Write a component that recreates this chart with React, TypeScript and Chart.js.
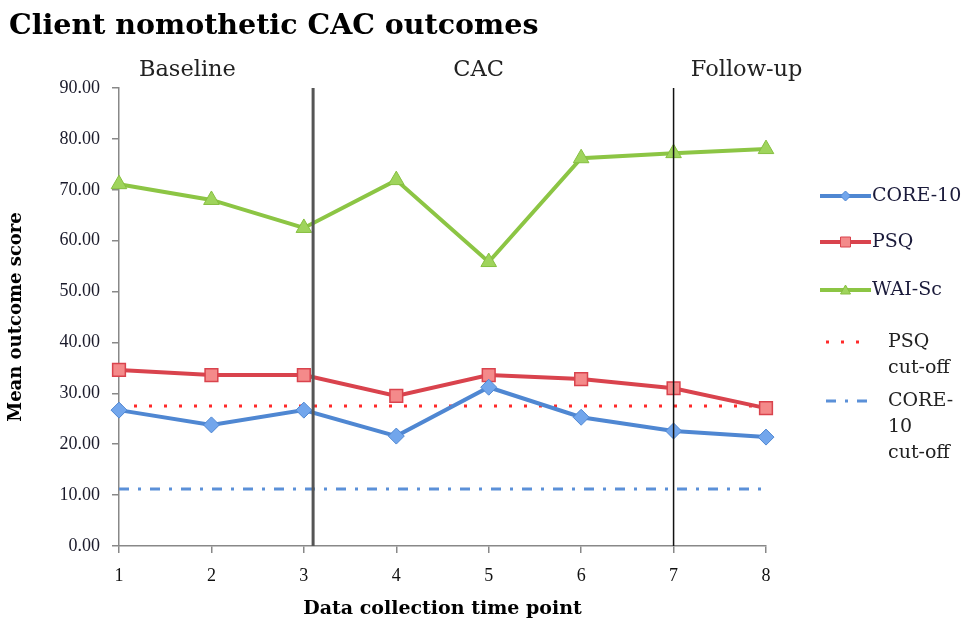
import React, { useEffect, useRef } from "react";
import { Chart, registerables } from "chart.js";

Chart.register(...registerables);

const timePoints = [1, 2, 3, 4, 5, 6, 7, 8];
const core10 = [26.7, 23.8, 26.7, 21.6, 31.2, 25.3, 22.6, 21.4];
const psq = [34.6, 33.6, 33.6, 29.5, 33.6, 32.8, 31.0, 27.1];
const waiSc = [71.1, 68.0, 62.5, 71.9, 55.8, 76.2, 77.2, 78.0];
const psqCutoff = 27.5;
const core10Cutoff = 11.2;
const yMin = 0;
const yMax = 90;
const yStep = 10;
const phaseBoundaries = [3.1, 7];
const phaseLabels = ["Baseline", "CAC", "Follow-up"];
const phaseLabelPositions = [1.74, 4.89, 7.79];
const legendLabels = [["CORE-10"], ["PSQ"], ["WAI-Sc"], ["PSQ", "cut-off"], ["CORE-", "10", "cut-off"]];
const titleText = "Client nomothetic CAC outcomes";
const xTitle = "Data collection time point";
const yTitle = "Mean outcome score";

const SERIF = "'DejaVu Serif', 'Liberation Serif', serif";
const NUM = "'Liberation Serif', 'DejaVu Serif', serif";

const toPoints = (vals: number[]) => vals.map((v, i) => ({ x: timePoints[i], y: v }));
const flat = (v: number) => timePoints.map((t) => ({ x: t, y: v }));

const overlayPlugin = {
  id: "overlay",
  afterDraw(chart: any) {
    const ctx = chart.ctx;
    const xs = chart.scales.x;
    ctx.save();
    // Title
    ctx.fillStyle = "#000";
    ctx.font = `bold 28.5px ${SERIF}`;
    ctx.textAlign = "left";
    ctx.textBaseline = "middle";
    ctx.fillText(titleText, 9, 27);
    // Phase labels
    ctx.fillStyle = "#222";
    ctx.font = `22.5px ${SERIF}`;
    ctx.textAlign = "center";
    phaseLabels.forEach((lab, i) => {
      ctx.fillText(lab, xs.getPixelForValue(phaseLabelPositions[i]), 70);
    });
    // Legend
    const ds = chart.data.datasets;
    const rows = [196, 242, 290, 342, 401];
    const lineH = 26;
    ctx.font = `19px ${SERIF}`;
    ctx.textAlign = "left";
    legendLabels.forEach((lines, i) => {
      const d = ds[i];
      const y = rows[i];
      const isCut = i >= 3;
      const x0 = isCut ? 826 : 820;
      const x1 = isCut ? 868 : 871;
      ctx.save();
      ctx.strokeStyle = d.borderColor;
      ctx.lineWidth = d.borderWidth;
      ctx.setLineDash(d.borderDash || []);
      ctx.lineCap = "butt";
      ctx.beginPath();
      ctx.moveTo(x0, y);
      ctx.lineTo(x1, y);
      ctx.stroke();
      ctx.restore();
      if (!isCut) {
        ctx.save();
        ctx.setLineDash([]);
        ctx.fillStyle = d.pointBackgroundColor;
        ctx.strokeStyle = d.pointBorderColor;
        ctx.lineWidth = 1;
        const r = 5;
        const cx = (x0 + x1) / 2;
        ctx.beginPath();
        if (d.pointStyle === "rectRot") {
          ctx.moveTo(cx, y - r);
          ctx.lineTo(cx + r, y);
          ctx.lineTo(cx, y + r);
          ctx.lineTo(cx - r, y);
          ctx.closePath();
        } else if (d.pointStyle === "rect") {
          ctx.rect(cx - r, y - r, 2 * r, 2 * r);
        } else {
          ctx.moveTo(cx, y - r);
          ctx.lineTo(cx + r, y + r * 0.8);
          ctx.lineTo(cx - r, y + r * 0.8);
          ctx.closePath();
        }
        ctx.fill();
        ctx.stroke();
        ctx.restore();
      }
      ctx.fillStyle = isCut ? "#222" : "#1a1a3a";
      lines.forEach((t, k) => {
        ctx.fillText(t, isCut ? 888 : 872, y + k * lineH);
      });
    });
    ctx.restore();
  },
};

export default function App() {
  const ref = useRef<HTMLCanvasElement>(null);
  useEffect(() => {
    if (!ref.current) return;
    const datasets: any[] = [
      {
        label: "CORE-10",
        data: toPoints(core10),
        borderColor: "#4f87d2",
        borderWidth: 4,
        pointStyle: "rectRot",
        pointRadius: 8,
        pointBackgroundColor: "#72a6ec",
        pointBorderColor: "#4f87d2",
        pointBorderWidth: 1,
        clip: false,
        order: 1,
      },
      {
        label: "PSQ",
        data: toPoints(psq),
        borderColor: "#d9434d",
        borderWidth: 4,
        pointStyle: "rect",
        pointRadius: 9,
        pointBackgroundColor: "#f48a8a",
        pointBorderColor: "#d9434d",
        pointBorderWidth: 1.5,
        clip: false,
        order: 1,
      },
      {
        label: "WAI-Sc",
        data: toPoints(waiSc),
        borderColor: "#8cc544",
        borderWidth: 4,
        pointStyle: "triangle",
        pointRadius: 9,
        pointBackgroundColor: "#9fd45c",
        pointBorderColor: "#86bf40",
        pointBorderWidth: 1,
        clip: false,
        order: 1,
      },
      {
        label: "PSQ cut-off",
        data: flat(psqCutoff),
        borderColor: "#ff2a2a",
        borderWidth: 3,
        borderDash: [3, 12],
        pointRadius: 0,
        order: 2,
      },
      {
        label: "CORE-10 cut-off",
        data: flat(core10Cutoff),
        borderColor: "#5b90d8",
        borderWidth: 3,
        borderDash: [10, 9, 3, 9],
        pointRadius: 0,
        order: 2,
      },
      ...phaseBoundaries.map((b, i) => ({
        label: "phase" + i,
        data: [
          { x: b, y: yMin },
          { x: b, y: yMax },
        ],
        borderColor: i === 0 ? "#555555" : "#111111",
        borderWidth: i === 0 ? 3 : 1.5,
        pointRadius: 0,
        order: 0,
      })),
    ];
    const chart = new Chart(ref.current, {
      type: "line",
      data: { datasets },
      plugins: [overlayPlugin],
      options: {
        animation: false,
        responsive: false,
        devicePixelRatio: 1,
        layout: { padding: { left: 0, top: 88, right: 205, bottom: 0 } },
        plugins: {
          legend: { display: false },
          tooltip: { enabled: false },
          title: { display: false },
        },
        scales: {
          x: {
            type: "linear",
            min: 1,
            max: 8,
            ticks: {
              stepSize: 1,
              padding: 12,
              color: "#111",
              font: { family: NUM, size: 18 },
              callback: (v: any) => String(v),
            },
            grid: { drawOnChartArea: false, tickLength: 7, color: "#888", lineWidth: 1.5 },
            border: { color: "#888", width: 1.5 },
            title: {
              display: true,
              text: xTitle,
              color: "#000",
              font: { family: SERIF, size: 19, weight: "bold" },
              padding: { top: 0, bottom: 4 },
            },
            afterFit: (s: any) => {
              s.height = 78;
            },
          },
          y: {
            min: yMin,
            max: yMax,
            ticks: {
              stepSize: yStep,
              padding: 12,
              color: "#1a1a2a",
              font: { family: NUM, size: 18 },
              callback: (v: any) => Number(v).toFixed(2),
            },
            grid: { drawOnChartArea: false, tickLength: 7, color: "#888", lineWidth: 1.5 },
            border: { color: "#888", width: 1.5 },
            title: {
              display: true,
              text: yTitle,
              color: "#000",
              font: { family: SERIF, size: 18, weight: "bold" },
              padding: { top: 6, bottom: 0 },
            },
            afterFit: (s: any) => {
              s.width = 119;
            },
          },
        },
      } as any,
    });
    return () => chart.destroy();
  }, []);
  return (
    <div style={{ position: "fixed", left: 0, top: 0, width: 971, height: 624, background: "#fff" }}>
      <canvas ref={ref} width={971} height={624} style={{ width: 971, height: 624 }} />
    </div>
  );
}
